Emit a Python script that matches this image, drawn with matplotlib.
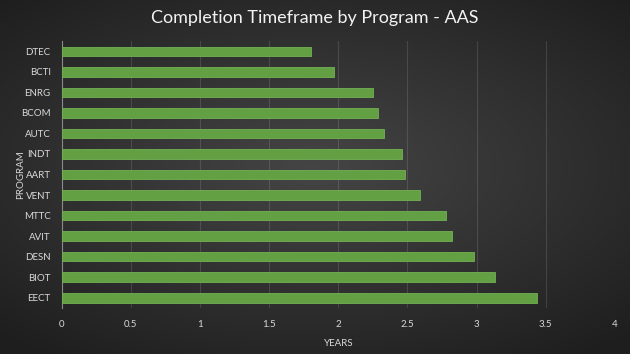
import numpy as np
import matplotlib.pyplot as plt

# program codes and completion time (years), top to bottom
programs = ["DTEC", "BCTI", "ENRG", "BCOM", "AUTC", "INDT", "AART",
            "VENT", "MTTC", "AVIT", "DESN", "BIOT", "EECT"]
years = [1.80, 1.97, 2.25, 2.29, 2.33, 2.46, 2.48,
         2.59, 2.78, 2.82, 2.98, 3.13, 3.44]
xticks = [0, 0.5, 1, 1.5, 2, 2.5, 3, 3.5, 4]
xticklabels = ["0", "0.5", "1", "1.5", "2", "2.5", "3", "3.5", "4"]

plt.rcParams['font.family'] = ['Lato', 'DejaVu Sans']

fig = plt.figure(figsize=(6.3, 3.54), dpi=100)

# radial gradient background
bg = fig.add_axes([0, 0, 1, 1], zorder=0)
gx, gy = np.meshgrid(np.linspace(-1, 1, 400), np.linspace(-1, 1, 230))
r = np.sqrt((gx * 0.9) ** 2 + (gy * 1.0 + 0.05) ** 2)
shade = 0.27 - 0.15 * np.clip(r / 1.3, 0, 1)
bg.imshow(np.dstack([shade] * 3), extent=[0, 1, 0, 1], aspect='auto')
bg.axis('off')

ax = fig.add_axes([0.098, 0.13, 0.878, 0.754], zorder=1)
ax.patch.set_alpha(0)

ypos = np.arange(len(programs))
ax.barh(ypos, years, height=0.47, color='#62a043', edgecolor='#74b055', linewidth=0.6, zorder=3)
ax.set_ylim(len(programs) - 0.5, -0.5)
ax.set_yticks(ypos)
ax.set_yticklabels(programs)
ax.set_xlim(0, 4)
ax.set_xticks(xticks)
ax.set_xticklabels(xticklabels)

ax.grid(axis='x', color='#ffffff', alpha=0.12, linewidth=0.8, zorder=0)
for s in ['top', 'right', 'bottom']:
    ax.spines[s].set_visible(False)
ax.spines['left'].set_color('#8a8a8a')
ax.spines['left'].set_linewidth(0.8)
ax.tick_params(length=0, colors='#d9d9d9', labelsize=7)
ax.tick_params(axis='x', pad=9)
ax.tick_params(axis='y', pad=8)

ax.set_xlabel("YEARS", color='#d9d9d9', fontsize=7, labelpad=7)
ax.set_ylabel("PROGRAM", color='#d9d9d9', fontsize=7, labelpad=-3)

fig.text(0.5, 0.95, "Completion Timeframe by Program - AAS", color='#f2f2f2',
         fontsize=13, ha='center', va='center')

plt.savefig('out.png', dpi=100)
